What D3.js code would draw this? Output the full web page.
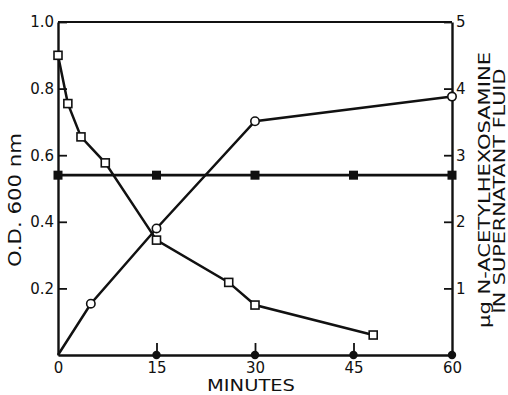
<!DOCTYPE html>
<html><head><meta charset="utf-8">
<script src="https://cdn.jsdelivr.net/npm/d3@7"></script>
<style>body{margin:0;background:#fff}svg{display:block}text{font-family:"DejaVu Sans",sans-serif;fill:#111}</style>
</head><body><svg id="c" width="508" height="395"></svg>
<script>
// OD 600 nm (left axis), open squares
const odMinutes = [0, 1.5, 3.5, 7.2, 15, 26, 30, 48];
const odValues  = [0.90, 0.755, 0.655, 0.577, 0.345, 0.218, 0.15, 0.06];
// N-acetylhexosamine in supernatant (right axis), open circles
const hexMinutes = [0, 5, 15, 30, 60];
const hexValues  = [0, 0.77, 1.9, 3.51, 3.88];
// control OD (left axis), filled squares
const ctlOdMinutes = [0, 15, 30, 45, 60];
const ctlOdValues  = [0.54, 0.54, 0.54, 0.54, 0.54];
// control hexosamine (right axis), filled circles
const ctlHexMinutes = [15, 30, 45, 60];
const ctlHexValues  = [0, 0, 0, 0];
// ticks
const xTicks = [0, 15, 30, 45, 60];
const yLeftTicks = [0.2, 0.4, 0.6, 0.8, 1.0];
const yRightTicks = [1, 2, 3, 4, 5];

const svg = d3.select("#c");
const L = 58, R = 452, T = 22, B = 355;
const x = d3.scaleLinear().domain([0, 60]).range([L, R]);
const yL = d3.scaleLinear().domain([0, 1]).range([B, T]);
const yR = d3.scaleLinear().domain([0, 5]).range([B, T]);

// frame top
svg.append("line").attr("x1", L).attr("x2", R).attr("y1", T).attr("y2", T)
  .attr("stroke", "#111").attr("stroke-width", 1.8);

function styleAxis(g) {
  g.selectAll("path.domain").attr("stroke", "#111").attr("stroke-width", 2.4);
  g.selectAll(".tick line").attr("stroke", "#111").attr("stroke-width", 1.8);
  g.selectAll(".tick text").style("font-size", "15px").attr("fill", "#111")
    .style("font-family", '"DejaVu Sans",sans-serif');
}

svg.append("g").attr("transform", `translate(${L},0)`)
  .call(d3.axisLeft(yL).tickValues(yLeftTicks).tickFormat(d3.format(".1f"))
    .tickSize(-9).tickSizeOuter(0).tickPadding(4))
  .call(styleAxis);

svg.append("g").attr("transform", `translate(${R},0)`)
  .call(d3.axisRight(yR).tickValues(yRightTicks).tickFormat(d3.format("d"))
    .tickSize(-8).tickSizeOuter(0).tickPadding(4))
  .call(styleAxis);

const xg = svg.append("g").attr("transform", `translate(0,${B})`)
  .call(d3.axisBottom(x).tickValues(xTicks).tickFormat(d3.format("d"))
    .tickSize(-12).tickSizeOuter(0).tickPadding(7))
  .call(styleAxis);
xg.selectAll(".tick line").filter(d => d === 0 || d === 60).remove();

// lines
const od = odMinutes.map((m, i) => [m, odValues[i]]);
const hex = hexMinutes.map((m, i) => [m, hexValues[i]]);
const ctlOd = ctlOdMinutes.map((m, i) => [m, ctlOdValues[i]]);
const ctlHex = ctlHexMinutes.map((m, i) => [m, ctlHexValues[i]]);

const lineL = d3.line().x(d => x(d[0])).y(d => yL(d[1]));
const lineR = d3.line().x(d => x(d[0])).y(d => yR(d[1]));

svg.append("path").attr("d", lineL(ctlOd)).attr("fill", "none").attr("stroke", "#111").attr("stroke-width", 2.8);
svg.append("path").attr("d", lineR(hex)).attr("fill", "none").attr("stroke", "#111").attr("stroke-width", 2.5);
svg.append("path").attr("d", lineL(od)).attr("fill", "none").attr("stroke", "#111").attr("stroke-width", 2.5);

// markers
svg.selectAll(".fsq").data(ctlOd).join("rect")
  .attr("x", d => x(d[0]) - 4.5).attr("y", d => yL(d[1]) - 4.5)
  .attr("width", 9).attr("height", 9).attr("fill", "#111");
svg.selectAll(".fci").data(ctlHex).join("circle")
  .attr("cx", d => x(d[0])).attr("cy", d => yR(d[1])).attr("r", 4.2).attr("fill", "#111");
svg.selectAll(".osq").data(od).join("rect")
  .attr("x", d => x(d[0]) - 4).attr("y", d => yL(d[1]) - 4)
  .attr("width", 8).attr("height", 8).attr("fill", "#fff").attr("stroke", "#111").attr("stroke-width", 1.6);
svg.selectAll(".oci").data(hex.filter(d => d[0] > 0)).join("circle")
  .attr("cx", d => x(d[0])).attr("cy", d => yR(d[1])).attr("r", 4.2)
  .attr("fill", "#fff").attr("stroke", "#111").attr("stroke-width", 1.6);

// axis titles
svg.append("text").attr("x", 251).attr("y", 391).attr("text-anchor", "middle")
  .style("font-size", "15px").attr("textLength", 88).attr("lengthAdjust", "spacingAndGlyphs").text("MINUTES");
svg.append("text").attr("transform", "translate(21,200) rotate(-90)").attr("text-anchor", "middle")
  .style("font-size", "17px").attr("textLength", 134).attr("lengthAdjust", "spacingAndGlyphs").text("O.D. 600 nm");
svg.append("text").attr("transform", "translate(490,190) rotate(-90)").attr("text-anchor", "middle")
  .style("font-size", "16px").attr("textLength", 276).attr("lengthAdjust", "spacingAndGlyphs").text("μg N-ACETYLHEXOSAMINE");
svg.append("text").attr("transform", "translate(505,191) rotate(-90)").attr("text-anchor", "middle")
  .style("font-size", "15px").attr("textLength", 245).attr("lengthAdjust", "spacingAndGlyphs").text("IN SUPERNATANT FLUID");
</script></body></html>
